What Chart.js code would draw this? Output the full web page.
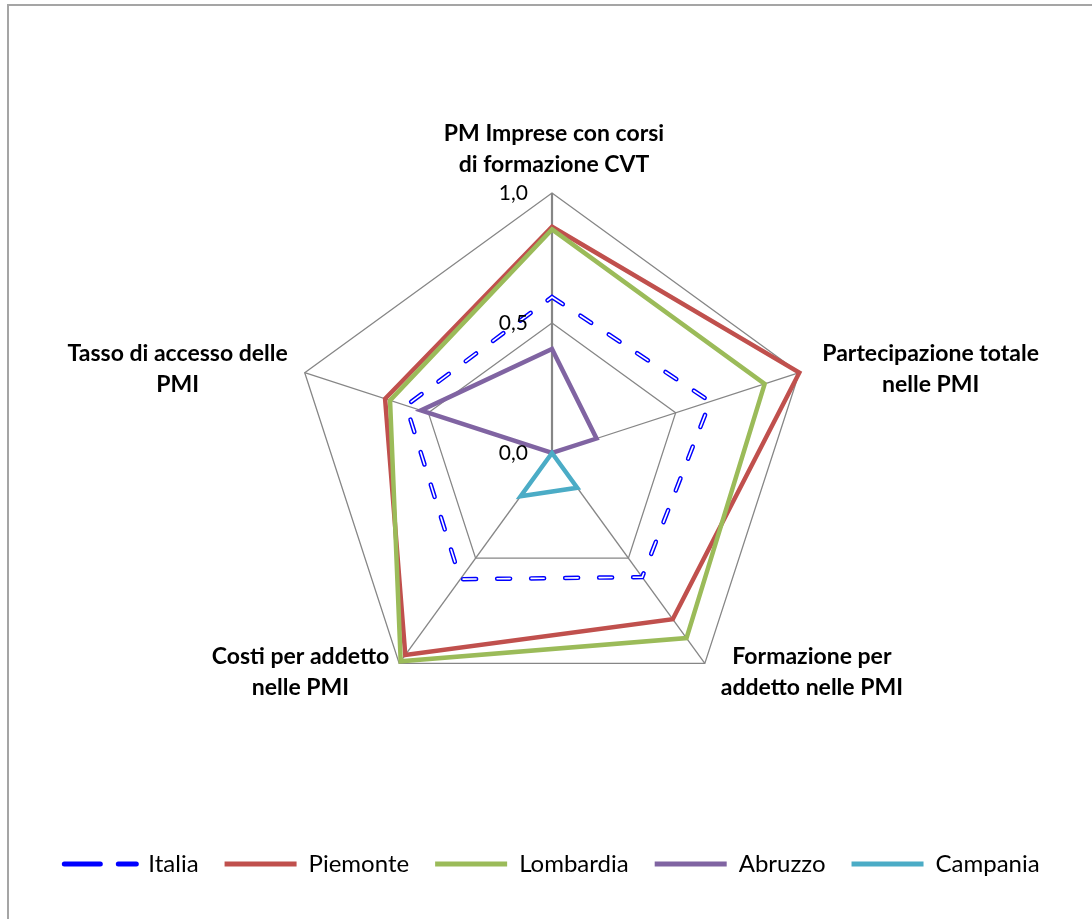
<!DOCTYPE html>
<html>
<head>
<meta charset="utf-8">
<script src="https://cdn.jsdelivr.net/npm/chart.js@4.4.1/dist/chart.umd.min.js"></script>
<style>
  html, body { margin: 0; padding: 0; background: #fff; }
  #wrap { position: relative; width: 1092px; height: 919px; overflow: hidden; }
  #frame { position: absolute; left: 7px; top: 4px; width: 2000px; height: 2000px; border-left: 2px solid #a5a5a5; border-top: 2px solid #a5a5a5; }
  canvas { position: absolute; left: 0; top: 0; }
</style>
</head>
<body>
<div id="wrap">
  <div id="frame"></div>
  <canvas id="myChart" width="1092" height="919"></canvas>
</div>
<script>
// axes, clockwise from the top
var categories = [
    ['PM Imprese con corsi', 'di formazione CVT'],
    ['Partecipazione totale', 'nelle PMI'],
    ['Formazione per', 'addetto nelle PMI'],
    ['Costi per addetto', 'nelle PMI'],
    ['Tasso di accesso delle', 'PMI']
];

var tickValues = [0, 0.5, 1];
var tickLabels = ['0,0', '0,5', '1,0'];

var seriesNames = ['Italia', 'Piemonte', 'Lombardia', 'Abruzzo', 'Campania'];
var seriesColors = ['#0000FF', '#C0504D', '#9BBB59', '#8064A2', '#4BACC6'];

var italia    = [0.60, 0.64, 0.59, 0.60, 0.59];
var piemonte  = [0.87, 1.00, 0.79, 0.96, 0.675];
var lombardia = [0.86, 0.86, 0.88, 0.99, 0.655];
var abruzzo   = [0.40, 0.18, 0.00, 0.00, 0.53];
var campania  = [0.00, 0.00, 0.165, 0.205, 0.00];

// where each axis title sits next to its outer vertex
var labelPlace = [
    { side: 'center', dx: 2, dy: -44 },
    { side: 'left', dx: 23, dy: -4 },
    { side: 'left', dx: 16, dy: 9 },
    { side: 'right', dx: -10, dy: 9 },
    { side: 'right', dx: -17, dy: -4 }
];

var labelPlugin = {
    id: 'labelPlugin',
    afterDatasetsDraw: function (chart) {
        var ctx = chart.ctx;
        var scale = chart.scales.r;
        ctx.save();
        ctx.fillStyle = '#000';

        ctx.font = '21px Lato';
        ctx.textAlign = 'right';
        ctx.textBaseline = 'middle';
        for (var i = 0; i < tickValues.length; i++) {
            var d = scale.getDistanceFromCenterForValue(tickValues[i]);
            ctx.fillText(tickLabels[i], scale.xCenter - 24, scale.yCenter - d);
        }

        ctx.font = 'bold 23px Lato';
        ctx.textAlign = 'center';
        for (var j = 0; j < categories.length; j++) {
            var p = scale.getPointPosition(j, scale.drawingArea);
            var lines = categories[j];
            var st = labelPlace[j];
            var w = 0;
            lines.forEach(function (l) { w = Math.max(w, ctx.measureText(l).width); });
            var cx = p.x + st.dx;
            if (st.side === 'left') cx += w / 2;
            if (st.side === 'right') cx -= w / 2;
            var top = p.y + st.dy - (lines.length - 1) * 31 / 2;
            lines.forEach(function (l, k) { ctx.fillText(l, cx, top + k * 31); });
        }
        ctx.restore();
    }
};

function DrawChart() {
    var ctx = document.getElementById('myChart').getContext('2d');

    var myChart = new Chart(ctx, {
        type: 'radar',
        data: {
            labels: categories,
            datasets: [{
                label: 'Italia',
                data: italia,
                borderColor: seriesColors[0],
                borderWidth: 4.5,
                borderDash: [13, 21],
                borderCapStyle: 'round',
                order: 6
            }, {
                // white core of the Italia dashes
                label: 'Italia core',
                data: italia,
                borderColor: '#ffffff',
                borderWidth: 1.6,
                borderDash: [13, 21],
                borderCapStyle: 'round',
                order: 5
            }, {
                label: 'Piemonte',
                data: piemonte,
                borderColor: seriesColors[1],
                borderWidth: 4.5,
                order: 4
            }, {
                label: 'Lombardia',
                data: lombardia,
                borderColor: seriesColors[2],
                borderWidth: 4.5,
                order: 3
            }, {
                label: 'Abruzzo',
                data: abruzzo,
                borderColor: seriesColors[3],
                borderWidth: 4.5,
                order: 2
            }, {
                label: 'Campania',
                data: campania,
                borderColor: seriesColors[4],
                borderWidth: 4.5,
                order: 1
            }]
        },
        options: {
            responsive: false,
            animation: false,
            layout: {
                padding: { top: 193, left: 12, right: 0, bottom: 33 }
            },
            elements: {
                line: { fill: false, tension: 0, backgroundColor: 'rgba(0,0,0,0)' },
                point: { radius: 0, hoverRadius: 0 }
            },
            scales: {
                r: {
                    min: 0,
                    max: 1,
                    ticks: { stepSize: 0.5, display: false },
                    pointLabels: { display: false },
                    grid: { color: '#868686', lineWidth: 1.3 },
                    angleLines: {
                        color: '#868686',
                        lineWidth: function (c) { return c.index === 0 ? 2.2 : 1.3; }
                    }
                }
            },
            plugins: {
                tooltip: { enabled: false },
                legend: {
                    position: 'bottom',
                    align: 'center',
                    title: {
                        display: true,
                        text: ' ',
                        font: { size: 10, lineHeight: 1 },
                        padding: { top: 103, bottom: 0 }
                    },
                    labels: {
                        color: '#000',
                        font: { family: 'Lato', size: 24 },
                        boxWidth: 72,
                        boxHeight: 0,
                        padding: 26,
                        generateLabels: function () {
                            return seriesNames.map(function (name, i) {
                                return {
                                    text: name,
                                    fillStyle: 'rgba(0,0,0,0)',
                                    strokeStyle: seriesColors[i],
                                    lineWidth: 5,
                                    lineDash: i === 0 ? [18, 36] : [],
                                    lineCap: i === 0 ? 'round' : 'butt',
                                    lineJoin: 'bevel',
                                    fontColor: '#000',
                                    hidden: false,
                                    datasetIndex: i === 0 ? 0 : i + 1
                                };
                            });
                        }
                    }
                }
            }
        },
        plugins: [labelPlugin]
    });
}

DrawChart();
</script>
</body>
</html>
